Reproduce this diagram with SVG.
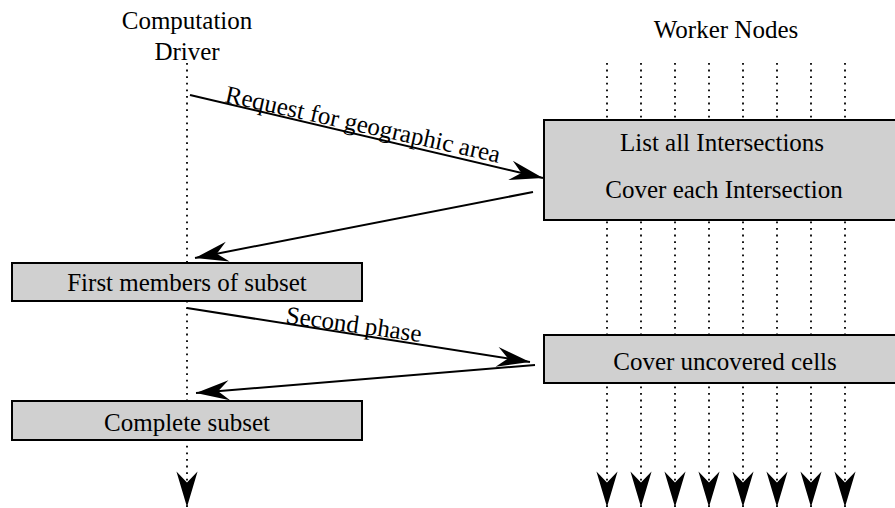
<svg xmlns="http://www.w3.org/2000/svg" width="895" height="508" viewBox="0 0 895 508">
<style>
text{font-family:"Liberation Serif","Times New Roman",serif;font-size:25px;fill:#000}
.c{text-anchor:middle}
.box{fill:#d0d0d0;stroke:#000;stroke-width:2}
.life{stroke:#000;stroke-width:1.8;stroke-dasharray:1.8 4.8;fill:none}
.msg{stroke:#000;stroke-width:2;fill:none}
</style>
<defs>
<marker id="headV" markerUnits="userSpaceOnUse" orient="auto" markerWidth="40" markerHeight="40" refX="0" refY="0" viewBox="-34 -12 36 24" overflow="visible">
<path d="M0,0 L-32,-9.5 L-22,0 L-32,9.5 Z" fill="#000"/>
</marker>
<marker id="head" markerUnits="userSpaceOnUse" orient="auto" markerWidth="40" markerHeight="40" refX="0" refY="0" viewBox="-34 -12 36 24" overflow="visible">
<path d="M0,0 L-30,-9 L-20,0 L-30,9 Z" fill="#000"/>
</marker>
</defs>
<g id="lifelines">
<line class="life" x1="187" y1="63" x2="187" y2="507" marker-end="url(#headV)"/>
<line class="life" x1="607" y1="63" x2="607" y2="507" marker-end="url(#headV)"/>
<line class="life" x1="641" y1="63" x2="641" y2="507" marker-end="url(#headV)"/>
<line class="life" x1="675" y1="63" x2="675" y2="507" marker-end="url(#headV)"/>
<line class="life" x1="709" y1="63" x2="709" y2="507" marker-end="url(#headV)"/>
<line class="life" x1="743" y1="63" x2="743" y2="507" marker-end="url(#headV)"/>
<line class="life" x1="777" y1="63" x2="777" y2="507" marker-end="url(#headV)"/>
<line class="life" x1="811" y1="63" x2="811" y2="507" marker-end="url(#headV)"/>
<line class="life" x1="845" y1="63" x2="845" y2="507" marker-end="url(#headV)"/>
</g>
<g id="driver-label">
<text class="c" x="187" y="29">Computation</text>
<text class="c" x="187" y="60">Driver</text>
</g>
<g id="workers-label">
<text class="c" x="726" y="38">Worker Nodes</text>
</g>
<g id="worker-task1">
<rect class="box" x="544" y="120" width="360" height="100"/>
<text class="c" x="722" y="151">List all Intersections</text>
<text class="c" x="724" y="198">Cover each Intersection</text>
</g>
<g id="first-members">
<rect class="box" x="12" y="263" width="350" height="38"/>
<text class="c" x="187" y="291">First members of subset</text>
</g>
<g id="worker-task2">
<rect class="box" x="544" y="335" width="360" height="48"/>
<text class="c" x="725" y="370">Cover uncovered cells</text>
</g>
<g id="complete-subset">
<rect class="box" x="12" y="401" width="350" height="39"/>
<text class="c" x="187" y="431">Complete subset</text>
</g>
<g id="connectors">
<line class="msg" x1="190" y1="95" x2="543" y2="178" marker-end="url(#head)"/>
<text x="224" y="102" transform="rotate(12.5 224 102)">Request for geographic area</text>
<line class="msg" x1="533" y1="192" x2="195" y2="258" marker-end="url(#head)"/>
<line class="msg" x1="187" y1="308" x2="530" y2="362" marker-end="url(#head)"/>
<text x="285" y="323" transform="rotate(8 285 323)">Second phase</text>
<line class="msg" x1="535" y1="365" x2="196" y2="393" marker-end="url(#head)"/>
</g>
</svg>
